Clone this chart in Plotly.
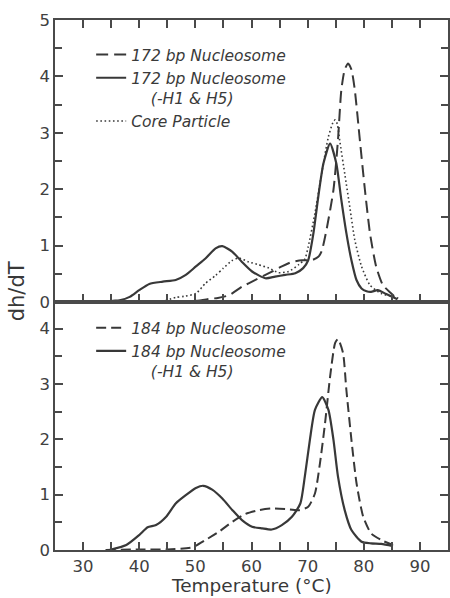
import plotly.graph_objects as go
from plotly.subplots import make_subplots

# Upper panel: 172 bp nucleosome, H1/H5-stripped nucleosome and core particle
t172_nuc = [47, 50, 53, 54, 56, 58.3, 60.7, 63.1, 65.4, 67.2, 69, 70.7, 71.9, 72.5, 73.4,
            74.6, 75.4, 76, 76.6, 77.2, 77.8, 78.4, 79.3, 80.2, 81.1, 82.2, 83.4, 84.9, 86]
v172_nuc = [0, 0.02, 0.06, 0.07, 0.12, 0.27, 0.39, 0.51, 0.63, 0.71, 0.74, 0.74, 0.8, 0.9, 1.3,
            1.99, 2.87, 3.76, 4.12, 4.23, 4.12, 3.76, 2.87, 1.99, 1.22, 0.63, 0.30, 0.15, 0.05]

t172_strip = [34, 35.3, 36.5, 38.3, 40, 41.8, 44.2, 46.5, 48.3, 50.1, 51.8, 53.6, 54.8, 56.6,
              58.3, 60.1, 62.5, 64.2, 66, 67.8, 69.2, 70.1, 71, 71.9, 72.8, 74.0, 75.1, 76.0,
              76.9, 77.8, 78.7, 79.6, 80.5, 81.3, 82.5, 84, 86]
v172_strip = [0, 0.02, 0.03, 0.09, 0.21, 0.32, 0.36, 0.39, 0.48, 0.63, 0.77, 0.95, 0.99, 0.89,
              0.71, 0.54, 0.42, 0.45, 0.48, 0.51, 0.6, 0.74, 1.2, 1.87, 2.45, 2.81, 2.46, 1.81,
              1.22, 0.74, 0.39, 0.24, 0.19, 0.18, 0.21, 0.14, 0.05]

t_core = [44, 46.5, 48, 50.1, 51.8, 53.6, 55, 56.5, 57.7, 59.5, 61.3, 63.1, 64.8, 66.6, 68.4,
          69.5, 70.1, 71.3, 72.5, 73.7, 74.5, 74.9, 75.3, 75.7, 76.6, 77.5, 78.4, 79.6, 81.1,
          83.1, 85.5, 86.5]
v_core = [0, 0.08, 0.1, 0.15, 0.33, 0.47, 0.6, 0.73, 0.78, 0.71, 0.66, 0.6, 0.52, 0.54, 0.66,
          0.76, 0.98, 1.57, 2.28, 2.93, 3.18, 3.23, 3.15, 2.87, 2.28, 1.69, 1.10, 0.63, 0.30,
          0.15, 0.09, 0.05]

# Lower panel: 184 bp nucleosome with and without H1/H5
t184_nuc = [34, 40, 45, 49.5, 51.8, 54.2, 56.6, 58.9, 61.3, 63.6, 66, 68.4, 70.1, 71.3, 72.2,
            73.1, 74.0, 74.9, 75.4, 76.3, 76.9, 77.8, 78.7, 79.9, 81.3, 83.1, 85.2]
v184_nuc = [0, 0.01, 0.01, 0.05, 0.18, 0.33, 0.51, 0.65, 0.72, 0.75, 0.74, 0.72, 0.78, 1.02,
            1.57, 2.29, 3.13, 3.74, 3.81, 3.56, 2.89, 1.99, 1.21, 0.6, 0.3, 0.18, 0.09]

t184_strip = [34.7, 37.7, 40, 41.5, 43, 44.8, 46.5, 48.3, 50.1, 51.4, 53, 54.8, 56.6, 58.3,
              60.1, 61.9, 63.6, 65.4, 67.2, 68.7, 69.5, 70.4, 71.3, 72.6, 73.7, 74.6, 75.4,
              76.6, 77.8, 79.6, 81.3, 83.1, 85.2]
v184_strip = [0, 0.09, 0.27, 0.41, 0.45, 0.6, 0.84, 0.99, 1.12, 1.16, 1.09, 0.93, 0.72, 0.54,
              0.42, 0.39, 0.37, 0.45, 0.6, 0.84, 1.33, 1.99, 2.53, 2.76, 2.53, 1.99, 1.33, 0.72,
              0.36, 0.15, 0.12, 0.11, 0.07]

x_ticks = [30, 40, 50, 60, 70, 80, 90]
top_y_ticks = [0, 1, 2, 3, 4, 5]
bottom_y_ticks = [0, 1, 2, 3, 4]

INK = "#383838"
FONT = "DejaVu Sans"
IND = "&nbsp;" * 4

fig = make_subplots(rows=2, cols=1, shared_xaxes=True, vertical_spacing=0,
                    row_heights=[0.532, 0.468])

line_kw = dict(mode="lines", line_shape="spline", hoverinfo="skip")

fig.add_trace(go.Scatter(x=t172_nuc, y=v172_nuc, name="172 bp Nucleosome",
                         line=dict(color=INK, width=2, dash="12px,6px", smoothing=0.6),
                         legend="legend", **line_kw), row=1, col=1)
fig.add_trace(go.Scatter(x=t172_strip, y=v172_strip,
                         name="172 bp Nucleosome<br>" + IND + "(-H1 & H5)",
                         line=dict(color=INK, width=2.2, smoothing=0.6),
                         legend="legend", **line_kw), row=1, col=1)
fig.add_trace(go.Scatter(x=t_core, y=v_core, name="Core Particle",
                         line=dict(color=INK, width=1.6, dash="1.6px,2.6px", smoothing=0.6),
                         legend="legend", **line_kw), row=1, col=1)

fig.add_trace(go.Scatter(x=t184_nuc, y=v184_nuc, name="184 bp Nucleosome",
                         line=dict(color=INK, width=2, dash="10px,5px", smoothing=0.6),
                         legend="legend2", **line_kw), row=2, col=1)
fig.add_trace(go.Scatter(x=t184_strip, y=v184_strip,
                         name="184 bp Nucleosome<br>" + IND + "(-H1 & H5)",
                         line=dict(color=INK, width=2.2, smoothing=0.6),
                         legend="legend2", **line_kw), row=2, col=1)

axis_common = dict(showline=True, linecolor="#4a4a4a", linewidth=1.6,
                   ticks="inside", tickcolor="#4a4a4a", tickwidth=1.5, ticklen=8,
                   tickfont=dict(family=FONT, size=16.5, color="#404040"),
                   showgrid=False, zeroline=False)

fig.update_xaxes(range=[25, 95], tickvals=x_ticks,
                 minor=dict(dtick=5, tick0=0, ticks="inside", ticklen=8,
                            tickcolor="#4a4a4a", tickwidth=1.5),
                 **axis_common)
fig.update_xaxes(mirror="ticks", row=1, col=1)
fig.update_xaxes(mirror=True, row=2, col=1)

fig.update_yaxes(mirror="ticks",
                 minor=dict(dtick=0.5, tick0=0, ticks="inside", ticklen=7,
                            tickcolor="#4a4a4a", tickwidth=1.5),
                 **axis_common)
fig.update_yaxes(range=[0, 5], tickvals=top_y_ticks, row=1, col=1)
fig.update_yaxes(range=[0, 4.48], tickvals=bottom_y_ticks, row=2, col=1)

legend_font = dict(family=FONT, size=15.5, color="#3a3a3a", style="italic")
fig.update_layout(
    width=450, height=598,
    margin=dict(l=55, r=0, t=20, b=48),
    paper_bgcolor="white", plot_bgcolor="white",
    legend=dict(x=0.092, y=0.966, xanchor="left", yanchor="top",
                bgcolor="rgba(0,0,0,0)", font=legend_font, valign="top",
                itemwidth=30, tracegroupgap=0),
    legend2=dict(x=0.092, y=0.4506, xanchor="left", yanchor="top",
                 bgcolor="rgba(0,0,0,0)", font=legend_font, valign="top",
                 itemwidth=30, tracegroupgap=0),
    annotations=[
        dict(text="dh/dT", textangle=-90, xref="paper", yref="paper",
             x=-0.098, y=0.489, xanchor="center", yanchor="middle", showarrow=False,
             font=dict(family=FONT, size=21, color="#383838")),
        dict(text="Temperature (°C)", xref="paper", yref="paper",
             x=0.501, y=-0.0903, xanchor="center", yanchor="bottom", showarrow=False,
             font=dict(family=FONT, size=18.5, color="#383838")),
    ],
)

fig.write_html("out.html")
